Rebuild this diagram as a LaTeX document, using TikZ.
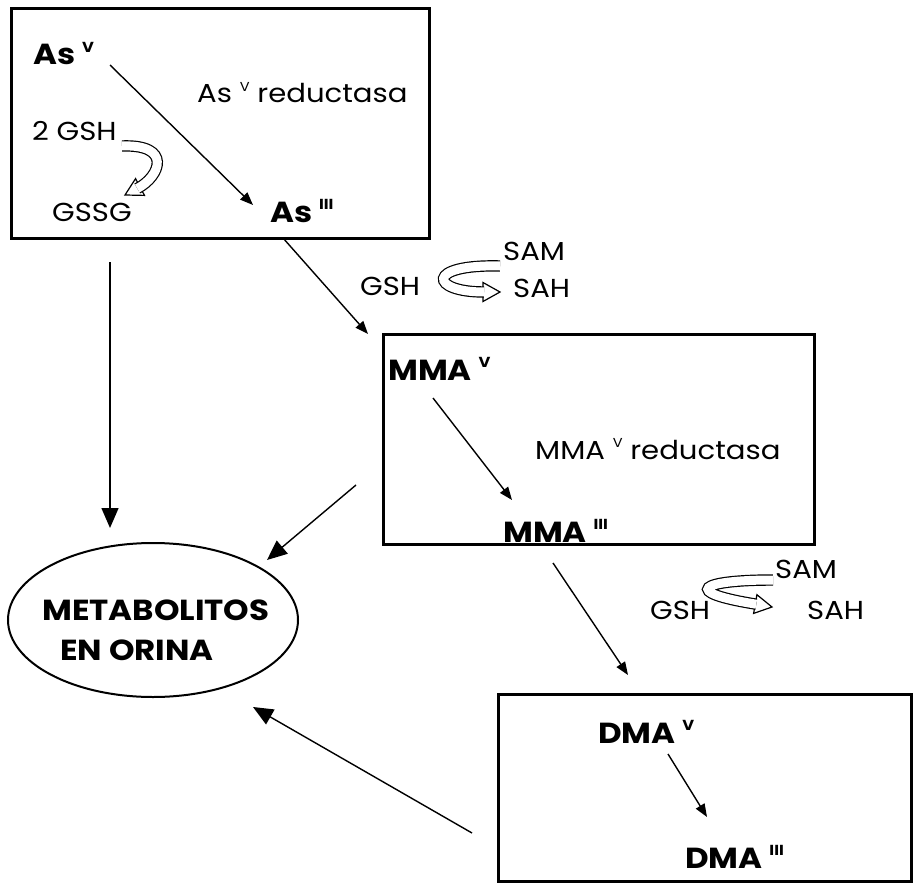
\documentclass[tikz,border=0pt]{standalone}
\usepackage{fontspec}
\setmainfont{Poppins}[FakeStretch=1.12]
\usetikzlibrary{arrows.meta, shapes.geometric}

\newcommand{\expo}[1]{\raisebox{0.8ex}{\scalebox{0.5}{#1}}}
% punta de flecha hueca
\newcommand{\punta}[2]{\draw[line width=1.2pt, fill=white, shift={(#1)}, rotate=#2] (0,0) -- (-17,9.5) -- (-17,-9.5) -- cycle;}

\tikzset{
	caja/.style={draw, line width=3pt, anchor=north west, inner sep=0pt},
	txt/.style={anchor=base west, inner sep=0pt, font=\fontsize{26}{30}\selectfont},
	neg/.style={anchor=base west, inner sep=0pt, font=\fontsize{29}{33}\selectfont\bfseries},
	flecha/.style={line width=1.4pt, -{Triangle[length=13pt,width=10pt]}},
	flechag/.style={line width=1.4pt, -{Triangle[length=20pt,width=17pt]}},
	hueco/.style={double=white, double distance=9pt, line width=1.2pt}
}

\begin{document}
\begin{tikzpicture}[x=1pt, y=-1pt]
		\useasboundingbox (0,0) rectangle (913,888);

		% cajas
		\node[caja, minimum width=418pt, minimum height=230pt] (caja1) at (10,7) {};
		\node[caja, minimum width=431pt, minimum height=210pt] (caja2) at (382,333) {};
		\node[caja, minimum width=413pt, minimum height=187pt] (caja3) at (497,693) {};
		\node[draw, ellipse, line width=2pt, inner sep=0pt, minimum width=290pt, minimum height=154pt] (orina) at (153,620) {};

		% textos
		\node[neg] (asv) at (33,65) {As \expo{V}};
		\node[txt] (asred) at (197,103) {As \expo{V} reductasa};
		\node[txt] (gsha) at (32,141) {2 GSH};
		\node[txt] (gssg) at (52,221) {GSSG};
		\node[neg] (asiii) at (270,222) {As \expo{III}};

		\node[txt] (sam1) at (503,260) {SAM};
		\node[txt] (gsh1) at (360,295) {GSH};
		\node[txt] (sah1) at (513,297) {SAH};

		\node[neg] (mmav) at (388,380) {MMA \expo{V}};
		\node[txt] (mmared) at (535,459) {MMA \expo{V} reductasa};
		\node[neg] (mmaiii) at (503,542) {MMA \expo{III}};

		\node[txt] (sam2) at (775,578) {SAM};
		\node[txt] (gsh2) at (650,619) {GSH};
		\node[txt] (sah2) at (807,619) {SAH};

		\node[neg] (dmav) at (598,743) {DMA \expo{V}};
		\node[neg] (dmaiii) at (685,868) {DMA \expo{III}};

		\node[neg] (met) at (42,620) {METABOLITOS};
		\node[neg] (ori) at (60,660) {EN ORINA};

		% extremos libres
		\coordinate (a1) at (110,65);
		\coordinate (a2) at (253,205);
		\coordinate (b1) at (283,238);
		\coordinate (b2) at (368,334);
		\coordinate (c1) at (433,398);
		\coordinate (c2) at (512,500);
		\coordinate (d1) at (553,563);
		\coordinate (d2) at (628,675);
		\coordinate (e1) at (668,754);
		\coordinate (e2) at (707,817);
		\coordinate (f1) at (110,262);
		\coordinate (f2) at (110,528);
		\coordinate (g1) at (356,485);
		\coordinate (g2) at (267,560);
		\coordinate (h1) at (472,833);
		\coordinate (h2) at (253,707);

		\draw[flecha] (a1) -- (a2);
		\draw[flecha] (b1) -- (b2);
		\draw[flecha] (c1) -- (c2);
		\draw[flecha] (d1) -- (d2);
		\draw[flecha] (e1) -- (e2);
		\draw[flechag] (f1) -- (f2);
		\draw[flechag] (g1) -- (g2);
		\draw[flechag] (h1) -- (h2);

		% flechas huecas
		\coordinate (pa) at (125,195);
		\coordinate (pb) at (500,292);
		\coordinate (pc) at (772,607);
		\punta{pa}{208}
		\draw[hueco] (122,146) .. controls (172,144) and (161,176) .. (137.3,188.5);
		\punta{pb}{0}
		\draw[hueco] (500,266) .. controls (425,264) and (430,292) .. (484,292);
		\punta{pc}{-10}
		\draw[hueco] (773,580) .. controls (700,580) and (680,592) .. (756.3,604.2);
	\end{tikzpicture}
\end{document}
